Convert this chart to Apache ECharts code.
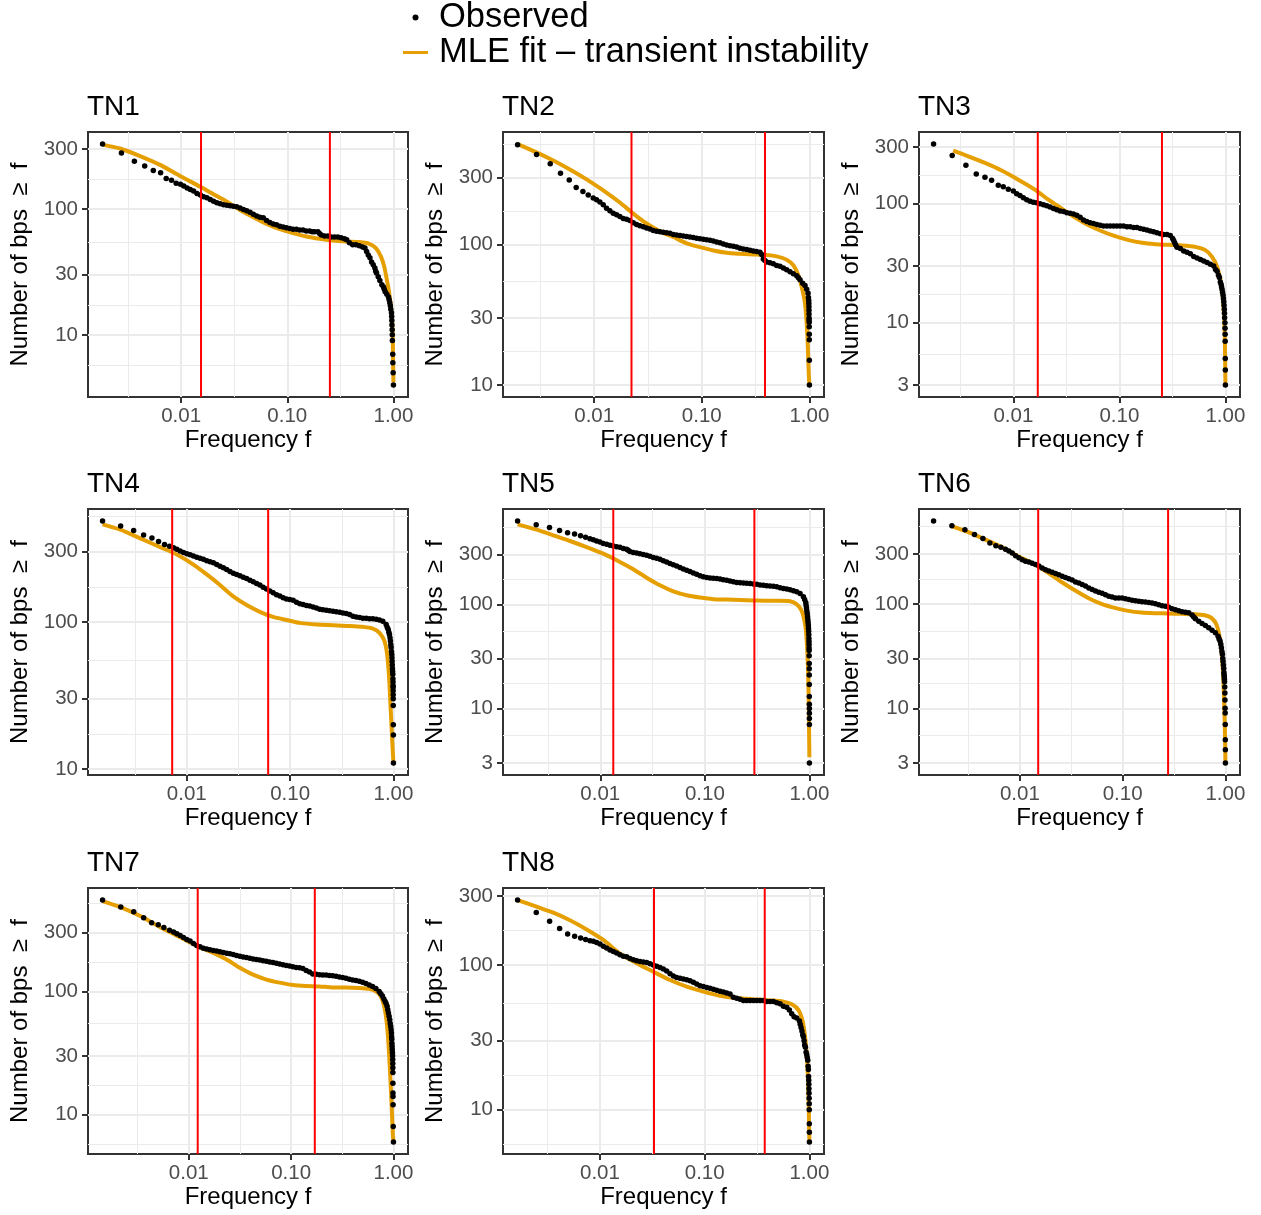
<!DOCTYPE html>
<html><head><meta charset="utf-8">
<script src="https://cdn.jsdelivr.net/npm/echarts@6.0.0/dist/echarts.min.js"></script>
<style>html,body{margin:0;padding:0;background:#fff}#chart{width:1261px;height:1215px}</style>
</head><body><div id="chart"></div>
<script>
const FONT = "'Liberation Sans', Arial, Helvetica, sans-serif";
const OBS_NAME = 'Observed';
const FIT_NAME = 'MLE fit – transient instability';
const panelNames = ['TN1','TN2','TN3','TN4','TN5','TN6','TN7','TN8'];

// tick values / labels
const xTicks = [0.01, 0.1, 1];
const xTickLabels = ['0.01', '0.10', '1.00'];
const xMinorTicks = [0.00316, 0.0316, 0.316];
const yTicksA = [10, 30, 100, 300];
const yTickLabelsA = ['10', '30', '100', '300'];
const yTicksB = [3, 10, 30, 100, 300];
const yTickLabelsB = ['3', '10', '30', '100', '300'];
const yMinorA = [5.77, 17.3, 54.8, 173, 520];
const yMinorB = [1.64, 5.48, 17.3, 54.8, 173, 548];

// observed [frequency, number of bps >= f]
const obsTN1 = [[0.00182,328],[0.00274,278],[0.00363,239],[0.00454,220],[0.00547,202],[0.00641,194],[0.00724,175],[0.00812,169],[0.00898,160],[0.00986,157],
[0.0106,152],[0.0114,147],[0.0122,143],[0.0131,139],[0.0141,133],[0.0152,129],[0.0163,125],[0.0175,123],[0.0188,119],[0.0202,115],
[0.0217,112],[0.0233,110],[0.0251,108],[0.0270,107],[0.0290,106],[0.0311,105],[0.0334,104],[0.0359,102],[0.0386,99],[0.0415,97],
[0.0446,94],[0.0479,91],[0.0515,88],[0.0553,86],[0.0594,85],[0.0638,81],[0.0686,78],[0.0737,76],[0.0792,75],[0.0851,73],
[0.0914,72],[0.0982,71],[0.1055,70],[0.1134,69],[0.1218,69],[0.1309,68],[0.1406,68],[0.1511,67],[0.1624,67],[0.1720,66],[0.1808,66],[0.1943,66],
[0.2014,64],[0.2088,62],[0.2244,61],[0.2411,61],[0.2591,60],[0.2784,60],[0.2991,60],[0.3214,59],[0.3453,58],[0.3631,57],
[0.3846,54],[0.4132,52],[0.4440,52],[0.4771,51],[0.5127,50],[0.5390,49],[0.5587,46],[0.5790,43],[0.6004,41],[0.6223,38],
[0.645,36],[0.6685,34],[0.681,32],[0.6931,31],[0.7185,29],[0.7447,27],[0.7774,25],[0.806,24],[0.82,23],[0.8352,22],[0.866,21],[0.8977,20],
[0.911,19],[0.924,18],[0.935,17],[0.944,16],[0.958,15],[0.962,14],[0.965,13],[0.968,12],[0.972,11],[0.975,10],[0.977,9],[0.984,7],[0.987,6],[0.993,5],[1.0,4]];
const obsTN2 = [[0.00194,514],[0.00291,437],[0.0039,375],[0.00486,322],[0.00586,288],[0.0068,255],[0.00785,238],[0.0088,225],[0.00979,214],
[0.01051,208],[0.01129,201],[0.01213,192],[0.01302,181],[0.01398,174],[0.01502,167],[0.01613,163],[0.01732,158],[0.0186,153],[0.01998,151],
[0.02146,148],[0.02305,143],[0.02475,139],[0.02658,136],[0.02855,134],[0.03066,131],[0.03293,129],[0.03537,126],[0.03799,124],[0.0408,123],
[0.04382,122],[0.04706,121],[0.05054,120],[0.05428,118],[0.0583,117],[0.06261,116],[0.06724,115],[0.07222,114],[0.07756,113],[0.0833,112],
[0.08946,111],[0.09609,110],[0.1032,109],[0.1108,108],[0.119,107],[0.1278,106],[0.1373,104],[0.1475,103],[0.1584,101],[0.1701,99],
[0.1827,98],[0.1962,97],[0.2107,96],[0.2263,94],[0.243,93],[0.261,92],[0.2803,91],[0.3011,90],[0.3233,89],[0.3473,88],
[0.3599,85],[0.3728,79],[0.3860,77],[0.4005,75],[0.4301,74],[0.462,73],[0.4962,71],[0.5329,70],[0.5724,68],[0.6147,66],[0.6603,64],
[0.7092,62],[0.7616,60],[0.79,58],[0.818,56],[0.866,53],[0.9103,51],[0.9434,48],[0.9711,45],[0.979,42],[0.9858,40],[0.988,38],[0.99,36],[0.991,34],
[0.992,32],[0.993,30],[0.994,29],[0.995,28],[0.996,26],[0.997,23],[0.998,21],[0.999,15],[1.0,10]];
const obsTN3 = [[0.00177,317],[0.00265,254],[0.00357,210],[0.00447,178],[0.0054,167],[0.00624,157],[0.00721,143],[0.00804,139],[0.00897,132],[0.01,128],
[0.01075,121],[0.01156,117],[0.01243,112],[0.01337,108],[0.01437,105],[0.01545,103],[0.01662,102],[0.01786,100],[0.01921,98],[0.02065,96],
[0.0222,94],[0.02388,91],[0.02567,89],[0.0276,87],[0.02968,86],[0.03192,84],[0.03431,83],[0.0369,82],[0.03967,80],[0.04266,77],
[0.04586,73],[0.0493,71],[0.05302,69],[0.05702,68],[0.06131,67],[0.06592,66],[0.07087,65],[0.07621,65],[0.08194,65],[0.0881,65],
[0.09473,65],[0.1017,65],[0.1094,65],[0.1178,64],[0.1265,64],[0.1361,63],[0.1463,63],[0.1574,62],[0.1692,61],[0.182,60],
[0.1956,59],[0.2104,58],[0.2262,57],[0.2432,56],[0.2615,55],[0.2812,55],[0.3023,54],[0.318,51],[0.325,49],[0.3321,47],[0.34,45],[0.3494,43],
[0.3758,42],[0.4041,40],[0.4345,39],[0.4671,38],[0.5023,36],[0.54,35],[0.5808,34],[0.6244,33],[0.6714,32],[0.7219,31],
[0.7762,30],[0.806,28],[0.8346,27],[0.86,25],[0.878,24],[0.895,22],[0.9105,21],[0.92,20],[0.9305,19],[0.94,18],[0.951,17],[0.958,16],[0.965,15],
[0.971,14],[0.977,13],[0.98,12],[0.983,11],[0.99,10],[0.992,9],[0.994,8],[0.995,7],[0.997,5],[0.998,4],[1.0,3]];
const obsTN4 = [[0.00153,484],[0.00229,448],[0.00306,418],[0.00382,389],[0.0046,371],[0.00533,352],[0.00609,336],[0.00681,327],[0.00744,319],
[0.008,311],[0.00862,303],[0.00929,296],[0.01,290],[0.01077,286],[0.0116,280],[0.01249,275],[0.01345,271],[0.01448,266],[0.0156,260],
[0.0168,256],[0.01809,252],[0.01948,245],[0.02097,239],[0.02258,233],[0.02431,227],[0.02618,220],[0.02819,214],[0.03036,210],[0.03269,206],
[0.0352,201],[0.03791,197],[0.04082,192],[0.04395,187],[0.04733,182],[0.05096,178],[0.05488,172],[0.0591,167],[0.06364,162],[0.06855,158],
[0.07381,153],[0.07948,150],[0.08561,146],[0.09218,143],[0.09926,142],[0.1069,140],[0.1151,136],[0.1239,133],[0.1335,131],[0.1437,129],
[0.1548,128],[0.1667,126],[0.1795,124],[0.1932,122],[0.2081,121],[0.2241,120],[0.2413,119],[0.2599,118],[0.2798,117],[0.3013,116],
[0.3245,115],[0.3494,114],[0.3762,112],[0.4052,109],[0.4363,108],[0.4698,107],[0.5059,106],[0.5448,106],[0.5867,105],[0.6319,105],
[0.6805,104],[0.7327,103],[0.7889,101],[0.8498,96],[0.87,92],[0.8884,89],[0.903,85],[0.9149,82],[0.926,78],[0.9355,74],[0.943,70],[0.9495,67],
[0.957,63],[0.9636,60],[0.967,57],[0.9707,54],[0.975,51],[0.978,48],[0.982,46],[0.985,44],[0.988,41],[0.99,39],[0.991,37],[0.992,36],[0.993,34],
[0.994,32],[0.995,30],[0.996,27],[0.997,20],[0.998,17],[1.0,11]];
const obsTN5 = [[0.00162,629],[0.00244,580],[0.00327,547],[0.00408,512],[0.00487,486],[0.00568,472],[0.00648,455],[0.00724,439],[0.00796,426],
[0.00857,417],[0.00922,405],[0.00993,396],[0.01068,384],[0.0115,376],[0.01238,368],[0.01332,362],[0.01434,357],[0.01543,352],[0.0166,344],
[0.01786,337],[0.0185,330],[0.01922,322],[0.02069,315],[0.02227,310],[0.02396,306],[0.02578,301],[0.02775,295],[0.02986,289],[0.03214,282],[0.03458,276],
[0.03724,270],[0.04006,262],[0.04311,255],[0.0464,247],[0.04993,240],[0.05373,233],[0.05783,225],[0.06223,218],[0.06697,212],[0.07208,206],
[0.07762,200],[0.08353,194],[0.08989,188],[0.09676,184],[0.1041,181],[0.1121,179],[0.1206,178],[0.1298,177],[0.1397,175],[0.1503,172],
[0.1618,170],[0.1741,167],[0.1874,165],[0.2017,162],[0.2171,161],[0.2336,160],[0.2514,159],[0.2705,158],[0.2911,157],[0.3133,156],
[0.3373,153],[0.3629,152],[0.3906,151],[0.4203,150],[0.4523,149],[0.4868,147],[0.5239,144],[0.5638,142],[0.6068,140],[0.653,138],
[0.7031,135],[0.7567,132],[0.8144,127],[0.8764,118],[0.90,111],[0.9224,104],[0.93,98],[0.937,92],[0.945,86],[0.953,81],[0.96,76],[0.966,71],
[0.971,67],[0.976,63],[0.98,59],[0.984,55],[0.987,51],[0.989,47],[0.991,44],[0.992,41],[0.993,38],[0.994,36],[0.995,32],[0.996,27],[0.9965,24],
[0.997,21],[0.9975,17],[0.998,13],[0.9985,11],[0.999,10],[0.9993,9],[0.9995,8],[0.9997,7],[1.0,3]];
const obsTN6 = [[0.001447,620],[0.00218,559],[0.00292,512],[0.00362,462],[0.00437,423],[0.00511,382],[0.00584,360],[0.00654,349],[0.00725,334],
[0.00782,320],[0.00842,306],[0.00908,289],[0.00978,276],[0.01054,264],[0.01135,256],[0.01223,251],[0.01318,245],[0.0142,238],[0.0153,230],
[0.01649,221],[0.01777,212],[0.01914,206],[0.02063,201],[0.02222,195],[0.02394,190],[0.0258,184],[0.0278,179],[0.02995,174],[0.03227,169],
[0.03477,162],[0.03748,158],[0.04037,153],[0.04349,148],[0.04687,142],[0.0505,137],[0.05442,133],[0.05863,129],[0.06317,126],[0.06806,122],
[0.07334,118],[0.079,116],[0.08514,114],[0.09174,114],[0.09886,114],[0.1065,112],[0.1148,110],[0.1237,108],[0.1333,107],[0.1436,106],
[0.1547,105],[0.1667,104],[0.1796,103],[0.1935,102],[0.2085,100],[0.2247,98],[0.2421,96],[0.2608,95],[0.281,93],[0.3028,90],
[0.3263,88],[0.3516,86],[0.3788,84],[0.4081,83],[0.4397,82],[0.4739,78],[0.492,75],[0.5106,72],[0.5501,68],[0.5928,65],[0.6387,62],
[0.6882,59],[0.7415,56],[0.799,53],[0.8487,49],[0.868,46],[0.8873,44],[0.902,41],[0.9143,38],[0.925,35],[0.935,33],[0.943,30],[0.949,28],[0.957,26],
[0.9634,24],[0.967,22],[0.9705,21],[0.975,20],[0.978,19],[0.981,18],[0.985,16],[0.988,14],[0.99,12],[0.993,10],[0.995,9],[0.997,7],[0.998,5],[0.999,4],[1.0,3]];
const obsTN7 = [[0.001437,553],[0.002166,485],[0.002897,444],[0.003624,397],[0.004335,362],[0.005032,348],[0.005713,331],[0.006486,315],[0.0071,304],
[0.00764,294],[0.00824,285],[0.00887,275],[0.00956,265],[0.0103,257],[0.0111,246],[0.01196,237],[0.01289,231],[0.01389,225],[0.01496,221],
[0.01612,218],[0.01737,215],[0.01872,213],[0.02017,210],[0.02174,207],[0.02342,205],[0.02523,203],[0.02719,200],[0.0293,196],[0.03156,193],
[0.034,191],[0.03664,189],[0.03948,186],[0.04254,184],[0.04583,182],[0.04938,180],[0.05321,178],[0.05733,176],[0.06177,174],[0.06655,172],
[0.07171,170],[0.07727,167],[0.08325,165],[0.0897,163],[0.09667,161],[0.1041,159],[0.1122,157],[0.1209,156],[0.1303,154],[0.1404,148],
[0.1512,144],[0.163,139],[0.1756,138],[0.1892,137],[0.2039,136],[0.2197,136],[0.2367,135],[0.255,134],[0.2748,133],[0.2961,131],
[0.319,130],[0.3437,128],[0.3704,126],[0.399,124],[0.4301,123],[0.4634,121],[0.4993,119],[0.538,116],[0.5797,113],[0.6246,110],
[0.673,106],[0.725,100],[0.752,96],[0.781,92],[0.806,87],[0.8292,83],[0.848,80],[0.867,76],[0.88,71],[0.8931,67],[0.907,63],[0.9203,59],[0.93,55],[0.9412,52],
[0.949,49],[0.9554,46],[0.959,43],[0.9627,41],[0.966,38],[0.9698,36],[0.973,34],[0.977,32],[0.981,30],[0.983,28],[0.985,26],[0.986,24],[0.987,22],
[0.988,18],[0.989,15],[0.99,14],[0.992,12],[0.995,8],[1.0,6]];
const obsTN8 = [[0.001634,281],[0.002464,231],[0.003304,201],[0.004116,179],[0.004911,164],[0.005728,158],[0.006536,154],[0.007296,150],[0.008025,147],
[0.008637,146],[0.00929,143],[0.01,140],[0.01076,135],[0.01158,131],[0.01246,127],[0.01341,124],[0.01443,121],[0.01552,118],[0.0167,115],
[0.01797,114],[0.01934,111],[0.02082,109],[0.0224,107],[0.02411,106],[0.02594,105],[0.02792,104],[0.03004,102],[0.03233,100],[0.03479,98],
[0.03743,96],[0.04028,94],[0.04335,91],[0.04665,87],[0.0502,84],[0.054,82],[0.05812,81],[0.06253,80],[0.0673,79],[0.07242,78],
[0.07793,76],[0.08386,74],[0.09024,72],[0.09712,71],[0.1045,70],[0.1124,69],[0.121,68],[0.1302,67],[0.1401,66],[0.1508,65],
[0.1623,64],[0.1746,63],[0.1878,60],[0.2021,59],[0.2175,58],[0.234,57],[0.2519,57],[0.2711,57],[0.2917,57],[0.3139,57],[0.3379,57],[0.3636,57],[0.3913,56],[0.4211,56],
[0.4529,56],[0.4875,55],[0.5245,54],[0.5644,52],[0.6073,51],[0.6438,49],[0.678,46],[0.7137,44],[0.7568,43],[0.8027,41],[0.817,39],
[0.8324,37],[0.848,35],[0.8637,33],[0.876,32],[0.8892,30],[0.9,28],[0.9158,27],[0.93,25],[0.943,24],[0.953,23],[0.964,22],[0.972,20],[0.978,19],[0.982,17],
[0.985,16],[0.988,15],[0.99,14],[0.992,13],[0.994,12],[0.996,11],[0.997,10],[0.998,8],[0.999,7],[1.0,6]];

// MLE fit curves [frequency, expected number]
const fitTN1 = [[0.00185,323],[0.0027,301],[0.00416,262],[0.00641,223],[0.00986,182],[0.0152,150],[0.0202,131],[0.027,114],[0.0359,98.2],[0.0479,86],[0.0638,76.1],[0.0851,69.1],[0.1134,64.3],[0.1511,60.5],[0.2014,58],[0.2685,56.2],[0.358,55.2],[0.477,54.6],[0.5918,52.9],[0.6833,48.9],[0.761,42],[0.818,35],[0.866,27.5],[0.911,21.6],[0.944,16.9],[0.972,12.5],[0.986,8.7],[0.993,5.7],[1.0,4.2]];
const fitTN2 = [[0.00194,519],[0.00291,453],[0.00416,396],[0.00594,342],[0.00849,291],[0.01213,243],[0.01732,199],[0.02305,166],[0.03066,141],[0.0408,124],[0.05428,113],[0.07222,102],[0.09609,95.8],[0.1278,90.7],[0.1701,87.3],[0.2263,85.9],[0.3011,85],[0.4005,84.1],[0.4962,82.3],[0.6147,78],[0.7092,71.1],[0.789,60.4],[0.8475,50],[0.9103,38.1],[0.9434,27.5],[0.964,19.9],[0.9777,14.4],[0.9917,11],[1.0,10]];
const fitTN3 = [[0.00271,279],[0.00376,250],[0.0054,220],[0.00776,190],[0.01115,159],[0.01602,131],[0.02141,108],[0.0286,90.8],[0.03825,76.4],[0.05113,65.9],[0.06835,58.7],[0.09135,53.3],[0.1221,49.4],[0.1632,46.9],[0.2182,45.7],[0.2915,45.1],[0.3897,44.6],[0.5208,43.4],[0.6473,40.7],[0.7486,35.8],[0.8346,29.6],[0.8975,22.9],[0.944,16.6],[0.972,11.3],[0.986,7.7],[0.993,5.2],[1.0,3.1]];
const fitTN4 = [[0.00153,460],[0.00228,423],[0.00355,369],[0.00553,322],[0.008,287],[0.0116,245],[0.0156,210],[0.02097,178],[0.02819,149],[0.03791,130],[0.05096,117],[0.06855,108],[0.09218,103],[0.1239,98.4],[0.1795,95.9],[0.2599,94.9],[0.3762,93.9],[0.5059,92.5],[0.6319,90.1],[0.7327,84.2],[0.8188,73.9],[0.8689,60],[0.9082,41.6],[0.9355,27.4],[0.9636,18],[0.985,13.2],[1.0,11]];
const fitTN5 = [[0.00162,585],[0.00246,520],[0.00355,459],[0.00513,405],[0.0074,354],[0.01068,306],[0.01543,255],[0.02069,217],[0.02775,180],[0.03724,152],[0.04993,133],[0.06697,122],[0.08989,116],[0.1206,112],[0.1618,111],[0.2171,110],[0.2911,109],[0.3906,108],[0.5239,108],[0.653,107],[0.7567,100],[0.8447,86.3],[0.909,64.3],[0.9429,44.5],[0.971,23],[0.9854,11],[0.9927,6.1],[1.0,3.4]];
const fitTN6 = [[0.002166,555],[0.00315,486],[0.00457,414],[0.00664,349],[0.00963,286],[0.01399,238],[0.01886,198],[0.02542,162],[0.03425,135],[0.04618,114],[0.06223,100],[0.08389,91.5],[0.1131,85.7],[0.1524,82.6],[0.2055,81.4],[0.2769,80.8],[0.3733,80.2],[0.503,79.6],[0.6292,77.9],[0.7306,73.4],[0.8176,63.4],[0.881,47.2],[0.9281,30.4],[0.9563,18.2],[0.978,9.4],[0.9926,5.2],[1.0,3.1]];
const fitTN7 = [[0.001437,543],[0.00215,485],[0.00336,410],[0.00526,333],[0.00824,276],[0.01289,228],[0.01737,206],[0.02342,182],[0.03156,156],[0.04254,137],[0.05733,125],[0.07727,118],[0.1041,113],[0.1404,111],[0.1892,110],[0.255,108],[0.3437,108],[0.4634,107],[0.5797,105],[0.673,100.6],[0.7523,91.6],[0.8108,76],[0.8606,55.6],[0.8931,38.3],[0.9203,24.7],[0.9482,15],[0.9697,9.7],[0.985,7.1],[1.0,6]];
const fitTN8 = [[0.001634,281],[0.002483,253],[0.003581,230],[0.005169,204],[0.007461,176],[0.01076,149],[0.01552,120],[0.0224,103],[0.03233,89.9],[0.04665,78.8],[0.0673,70.9],[0.09712,65.5],[0.1401,61.4],[0.2021,59.2],[0.2917,58],[0.4209,57],[0.5644,55.9],[0.678,53.5],[0.785,49],[0.8637,40.6],[0.9158,30.4],[0.95,22.1],[0.9711,15.3],[0.9854,10.5],[0.9927,7.7],[1.0,6.2]];

// red vertical lines (frequency cut-offs)
const cutsTN1 = [0.0154, 0.252];
const cutsTN2 = [0.0222, 0.3865];
const cutsTN3 = [0.0170, 0.2522];
const cutsTN4 = [0.00722, 0.0613];
const cutsTN5 = [0.01332, 0.2977];
const cutsTN6 = [0.01508, 0.2769];
const cutsTN7 = [0.01223, 0.1704];
const cutsTN8 = [0.0328, 0.3745];

const panels = [
  {obs: obsTN1, fit: fitTN1, cuts: cutsTN1, yt: yTicksA, yl: yTickLabelsA, ym: yMinorA},
  {obs: obsTN2, fit: fitTN2, cuts: cutsTN2, yt: yTicksA, yl: yTickLabelsA, ym: yMinorA},
  {obs: obsTN3, fit: fitTN3, cuts: cutsTN3, yt: yTicksB, yl: yTickLabelsB, ym: yMinorB},
  {obs: obsTN4, fit: fitTN4, cuts: cutsTN4, yt: yTicksA, yl: yTickLabelsA, ym: yMinorA},
  {obs: obsTN5, fit: fitTN5, cuts: cutsTN5, yt: yTicksB, yl: yTickLabelsB, ym: yMinorB},
  {obs: obsTN6, fit: fitTN6, cuts: cutsTN6, yt: yTicksB, yl: yTickLabelsB, ym: yMinorB},
  {obs: obsTN7, fit: fitTN7, cuts: cutsTN7, yt: yTicksA, yl: yTickLabelsA, ym: yMinorA},
  {obs: obsTN8, fit: fitTN8, cuts: cutsTN8, yt: yTicksA, yl: yTickLabelsA, ym: yMinorA}
];

// panel boxes [left, top, width, height]
const boxes = [
  [88, 132, 320, 265], [503, 132, 321, 265], [919, 132, 321, 265],
  [88, 509, 320, 266], [503, 509, 321, 266], [919, 509, 321, 266],
  [88, 888, 320, 266], [503, 888, 321, 266]
];

function logExtent(vals) {
  let lo = Infinity, hi = -Infinity;
  vals.forEach(v => { const l = Math.log10(v); if (l < lo) lo = l; if (l > hi) hi = l; });
  const pad = 0.05 * (hi - lo);
  return [Math.pow(10, lo - pad), Math.pow(10, hi + pad)];
}
function labelFor(ticks, labels) {
  return function (v) {
    for (let k = 0; k < ticks.length; k++) {
      if (Math.abs(Math.log10(ticks[k]) - Math.log10(v)) < 1e-6) return labels[k];
    }
    return '';
  };
}

const grids = [], xAxes = [], yAxes = [], xMinorAxes = [], yMinorAxes = [], series = [], titles = [];
panels.forEach((p, i) => {
  const b = boxes[i];
  const xr = logExtent(p.obs.map(d => d[0]).concat(p.fit.map(d => d[0])));
  const yr = logExtent(p.obs.map(d => d[1]).concat(p.fit.map(d => d[1])));
  grids.push({left: b[0], top: b[1], width: b[2], height: b[3], show: true,
    borderColor: '#333333', borderWidth: 2, backgroundColor: '#ffffff'});
  titles.push({text: panelNames[i], left: b[0] - 1, top: b[1] - 39, padding: 0,
    textStyle: {fontSize: 28, fontWeight: 'normal', color: '#000', fontFamily: FONT}});
  xAxes.push({
    type: 'log', logBase: 10, gridIndex: i, min: xr[0], max: xr[1], position: 'bottom',
    axisLine: {show: false},
    axisTick: {show: true, length: 6, customValues: xTicks, lineStyle: {color: '#333333', width: 2}},
    axisLabel: {show: true, customValues: xTicks, formatter: labelFor(xTicks, xTickLabels),
      fontSize: 20.5, color: '#4D4D4D', margin: 9, fontFamily: FONT},
    splitLine: {show: true, lineStyle: {color: '#EBEBEB', width: 2}},
    minorTick: {show: false}, minorSplitLine: {show: false},
    name: 'Frequency f', nameLocation: 'middle', nameGap: 31,
    nameTextStyle: {fontSize: 24, color: '#000', fontFamily: FONT}
  });
  yAxes.push({
    type: 'log', logBase: 10, gridIndex: i, min: yr[0], max: yr[1], position: 'left',
    axisLine: {show: false},
    axisTick: {show: true, length: 6, customValues: p.yt, lineStyle: {color: '#333333', width: 2}},
    axisLabel: {show: true, customValues: p.yt, formatter: labelFor(p.yt, p.yl),
      fontSize: 20.5, color: '#4D4D4D', margin: 10, fontFamily: FONT},
    splitLine: {show: true, lineStyle: {color: '#EBEBEB', width: 2}},
    minorTick: {show: false}, minorSplitLine: {show: false},
    name: 'Number of bps  ≥  f', nameLocation: 'middle', nameGap: 56, nameRotate: 90,
    nameTextStyle: {fontSize: 24, color: '#000', fontFamily: FONT}
  });
  xMinorAxes.push({
    type: 'log', logBase: 10, gridIndex: i, min: xr[0], max: xr[1], position: 'top',
    axisLine: {show: false},
    axisTick: {show: false, customValues: xMinorTicks},
    axisLabel: {show: false, customValues: xMinorTicks},
    splitLine: {show: true, lineStyle: {color: '#EBEBEB', width: 1}}
  });
  yMinorAxes.push({
    type: 'log', logBase: 10, gridIndex: i, min: yr[0], max: yr[1], position: 'right',
    axisLine: {show: false},
    axisTick: {show: false, customValues: p.ym},
    axisLabel: {show: false, customValues: p.ym},
    splitLine: {show: true, lineStyle: {color: '#EBEBEB', width: 1}}
  });
  series.push({
    type: 'line', name: FIT_NAME, xAxisIndex: i, yAxisIndex: i, data: p.fit,
    symbol: 'none', smooth: 0.25, silent: true, z: 2,
    lineStyle: {color: '#E69F00', width: 4}, itemStyle: {color: '#E69F00'}
  });
  series.push({
    type: 'scatter', name: OBS_NAME, xAxisIndex: i, yAxisIndex: i, data: p.obs,
    symbol: 'circle', symbolSize: 5.5, silent: true, z: 3,
    itemStyle: {color: '#000000', opacity: 1}
  });
  p.cuts.forEach(v => {
    series.push({
      type: 'line', name: 'cut-off', xAxisIndex: i, yAxisIndex: i,
      data: [[v, yr[0]], [v, yr[1]]],
      symbol: 'none', silent: true, z: 5,
      lineStyle: {color: '#FF0000', width: 2}
    });
  });
});

const chart = echarts.init(document.getElementById('chart'), null, {renderer: 'canvas'});
chart.setOption({
  animation: false,
  backgroundColor: '#ffffff',
  textStyle: {fontFamily: FONT},
  title: titles,
  legend: {
    orient: 'vertical', left: 403, top: 0, padding: 0, itemWidth: 25, itemHeight: 6, itemGap: 0,
    selectedMode: false, symbolKeepAspect: true,
    textStyle: {fontSize: 34.5, color: '#000', lineHeight: 34, fontFamily: FONT, padding: [0, 0, 0, 6]},
    data: [
      {name: OBS_NAME, icon: 'circle', itemStyle: {color: '#000'}},
      {name: FIT_NAME, icon: 'path://M0,0H25V3H0Z', itemStyle: {color: '#E69F00'}}
    ]
  },
  grid: grids,
  xAxis: xAxes.concat(xMinorAxes),
  yAxis: yAxes.concat(yMinorAxes),
  series: series
});
</script>
</body></html>
